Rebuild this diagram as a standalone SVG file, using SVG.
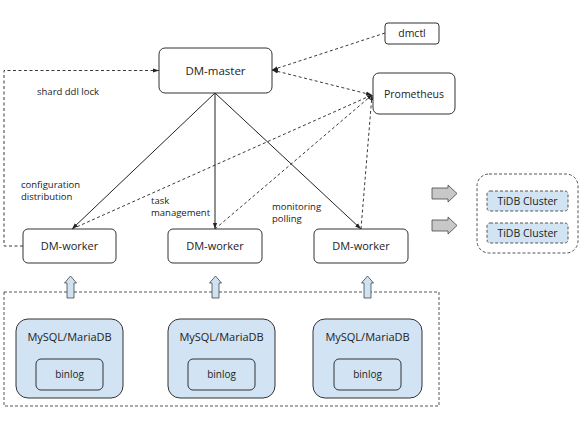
<svg xmlns="http://www.w3.org/2000/svg" width="588" height="438" viewBox="0 0 588 438">
<style>
text{font-family:"Open Sans","Noto Sans","DejaVu Sans",sans-serif;fill:#222}
.node{fill:#fff;stroke:#333;stroke-width:1}
.db{fill:#d2e3f3;stroke:#333;stroke-width:1}
.dbox{fill:none;stroke:#555;stroke-width:1;stroke-dasharray:3,2}
.solid{fill:none;stroke:#222;stroke-width:1}
.dash{fill:none;stroke:#222;stroke-width:0.9;stroke-dasharray:3,2.5}
.lbl{font-size:9.5px}
.c{text-anchor:middle}
.big{fill:#cfe2f3;stroke:#444;stroke-width:0.8}
.gray{fill:#c8c8c8;stroke:#444;stroke-width:0.8}
</style>
<defs>
<marker id="ah" viewBox="0 0 10 10" refX="10" refY="5" markerWidth="6" markerHeight="6" orient="auto-start-reverse" markerUnits="userSpaceOnUse">
<path d="M0,1.5 L10,5 L0,8.5 z" fill="#222"/>
</marker>
<marker id="as" viewBox="0 0 10 10" refX="10" refY="5" markerWidth="5" markerHeight="5" orient="auto-start-reverse" markerUnits="userSpaceOnUse">
<path d="M0,1.5 L10,5 L0,8.5 z" fill="#222"/>
</marker>
</defs>
<rect width="588" height="438" fill="#fff"/>

<g id="source-group">
<rect class="dbox" x="4" y="292" width="435" height="114"/>
</g>
<g id="tidb-group">
<rect class="dbox" x="477" y="174" width="101" height="79" rx="12"/>
</g>

<g id="connectors">
<path class="dash" d="M23,246 H4 V70.5 H159" marker-end="url(#ah)"/>
<line class="dash" x1="385" y1="33" x2="272" y2="70" marker-end="url(#ah)"/>
<line class="dash" x1="272" y1="70" x2="372" y2="95" marker-start="url(#ah)" marker-end="url(#ah)"/>
<line class="solid" x1="215" y1="93" x2="72" y2="229" marker-end="url(#ah)"/>
<line class="solid" x1="215" y1="93" x2="215" y2="229" marker-end="url(#ah)"/>
<line class="solid" x1="215" y1="93" x2="361" y2="229" marker-end="url(#ah)"/>
<line class="dash" x1="72" y1="229" x2="372" y2="95" marker-end="url(#as)"/>
<line class="dash" x1="215" y1="229" x2="372" y2="95" marker-end="url(#as)"/>
<line class="dash" x1="361" y1="229" x2="372" y2="95" marker-end="url(#as)"/>
<path class="big" d="M67,298 V283 H64.5 L70.5,276 L76.5,283 H74 V298 z"/>
<path class="big" d="M212,298 V283 H209.5 L215.5,276 L221.5,283 H219 V298 z"/>
<path class="big" d="M364,298 V283 H361.5 L367.5,276 L373.5,283 H371 V298 z"/>
<path class="gray" d="M432,188 H448 V185 L457,193.5 L448,202 V199 H432 z"/>
<path class="gray" d="M432,220 H448 V217 L457,225.5 L448,234 V231 H432 z"/>
<text class="lbl" x="37" y="95">shard ddl lock</text>
<text class="lbl" x="21" y="188">configuration</text>
<text class="lbl" x="21" y="200">distribution</text>
<text class="lbl" x="151" y="204">task</text>
<text class="lbl" x="151" y="216">management</text>
<text class="lbl" x="272" y="210">monitoring</text>
<text class="lbl" x="272" y="222">polling</text>
</g>

<g id="dm-master">
<rect class="node" x="159" y="48" width="113" height="45" rx="6"/>
<text class="c" x="215.5" y="75" font-size="11.5">DM-master</text>
</g>
<g id="dmctl">
<rect class="node" x="385" y="23" width="54" height="21" rx="3"/>
<text class="c" x="412" y="37" font-size="10.5">dmctl</text>
</g>
<g id="prometheus">
<rect class="node" x="373" y="73" width="82" height="41" rx="6"/>
<text class="c" x="414" y="97.5" font-size="10.5">Prometheus</text>
</g>
<g id="dm-worker-1">
<rect class="node" x="23" y="229" width="93" height="34" rx="5"/>
<text class="c" x="69.5" y="250" font-size="11">DM-worker</text>
</g>
<g id="dm-worker-2">
<rect class="node" x="168" y="229" width="94" height="34" rx="5"/>
<text class="c" x="215" y="250" font-size="11">DM-worker</text>
</g>
<g id="dm-worker-3">
<rect class="node" x="314" y="229" width="94" height="34" rx="5"/>
<text class="c" x="361" y="250" font-size="11">DM-worker</text>
</g>

<g id="mysql-1">
<rect class="db" x="16" y="319" width="107" height="79" rx="12"/>
<text class="c" x="69.5" y="341" font-size="11">MySQL/MariaDB</text>
<rect class="db" x="36" y="359" width="67" height="31" rx="5"/>
<text class="c" x="69.5" y="378" font-size="10">binlog</text>
</g>
<g id="mysql-2">
<rect class="db" x="168" y="319" width="107" height="79" rx="12"/>
<text class="c" x="221.5" y="341" font-size="11">MySQL/MariaDB</text>
<rect class="db" x="188" y="359" width="67" height="31" rx="5"/>
<text class="c" x="221.5" y="378" font-size="10">binlog</text>
</g>
<g id="mysql-3">
<rect class="db" x="313" y="319" width="109" height="79" rx="12"/>
<text class="c" x="367.5" y="341" font-size="11">MySQL/MariaDB</text>
<rect class="db" x="334" y="359" width="67" height="31" rx="5"/>
<text class="c" x="367.5" y="378" font-size="10">binlog</text>
</g>

<g id="tidb-1">
<rect class="db" x="487" y="191" width="81" height="20" rx="3" style="stroke-dasharray:3,2;stroke:#555"/>
<text class="c" x="527.5" y="205" font-size="10.5">TiDB Cluster</text>
</g>
<g id="tidb-2">
<rect class="db" x="487" y="223" width="81" height="20" rx="3" style="stroke-dasharray:3,2;stroke:#555"/>
<text class="c" x="527.5" y="237" font-size="10.5">TiDB Cluster</text>
</g>
</svg>
